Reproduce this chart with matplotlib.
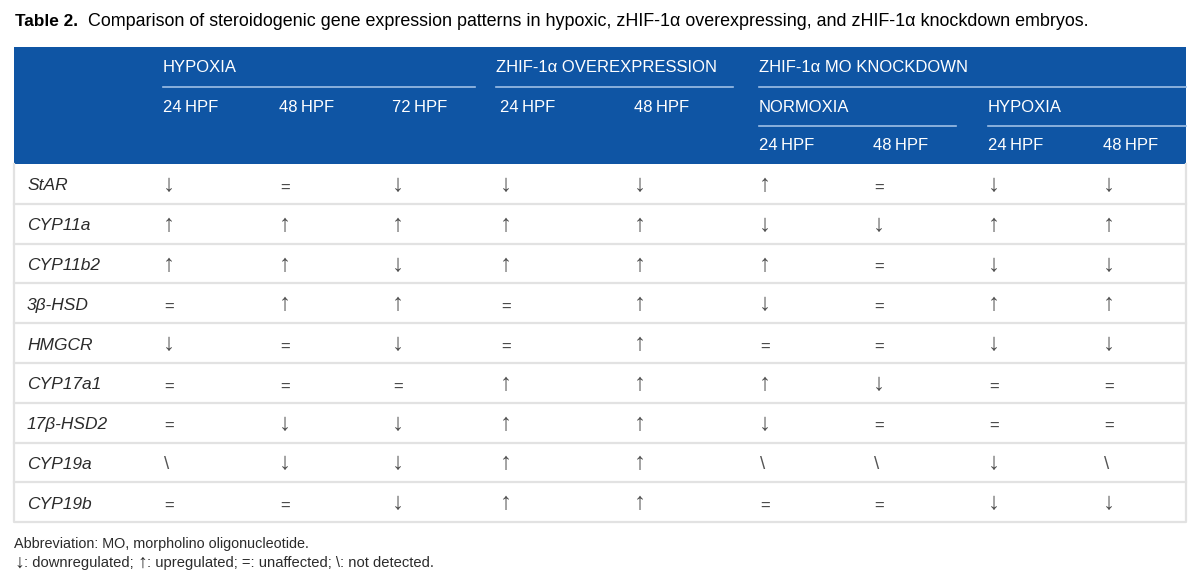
import matplotlib
matplotlib.use("Agg")
import matplotlib.pyplot as plt

plt.rcParams['font.family'] = ['Liberation Sans', 'DejaVu Sans']

genes = ['StAR', 'CYP11a', 'CYP11b2', '3β-HSD', 'HMGCR',
         'CYP17a1', '17β-HSD2', 'CYP19a', 'CYP19b']

# columns: hypoxia 24/48/72, overexpression 24/48,
# knockdown normoxia 24/48, knockdown hypoxia 24/48
hypoxia = [['↓', '=', '↓'], ['↑', '↑', '↑'], ['↑', '↑', '↓'],
           ['=', '↑', '↑'], ['↓', '=', '↓'], ['=', '=', '='],
           ['=', '↓', '↓'], ['\\', '↓', '↓'], ['=', '=', '↓']]
overexpression = [['↓', '↓'], ['↑', '↑'], ['↑', '↑'], ['=', '↑'],
                  ['=', '↑'], ['↑', '↑'], ['↑', '↑'], ['↑', '↑'],
                  ['↑', '↑']]
kd_normoxia = [['↑', '='], ['↓', '↓'], ['↑', '='], ['↓', '='],
               ['=', '='], ['↑', '↓'], ['↓', '='], ['\\', '\\'],
               ['=', '=']]
kd_hypoxia = [['↓', '↓'], ['↑', '↑'], ['↓', '↓'], ['↑', '↑'],
              ['↓', '↓'], ['=', '='], ['=', '='], ['↓', '\\'],
              ['↓', '↓']]

groups = ['HYPOXIA', 'ZHIF-1α OVEREXPRESSION', 'ZHIF-1α MO KNOCKDOWN']
subgroups = ['NORMOXIA', 'HYPOXIA']
times = ['24\u2009HPF', '48\u2009HPF', '72\u2009HPF', '24\u2009HPF', '48\u2009HPF',
         '24\u2009HPF', '48\u2009HPF', '24\u2009HPF', '48\u2009HPF']

title_bold = 'Table 2.'
title_rest = ('Comparison of steroidogenic gene expression patterns in hypoxic, '
              'zHIF-1α overexpressing, and zHIF-1α knockdown embryos.')
note1 = 'Abbreviation: MO, morpholino oligonucleotide.'
note2 = [('↓', True), (': downregulated; ', False), ('↑', True),
         (': upregulated; =: unaffected; \\: not detected.', False)]

blue = '#0F55A4'
rule = '#9EBFE6'
grid = '#E2E2E2'
ink = '#2B2B2B'

fig = plt.figure(figsize=(12, 5.87), dpi=100)
ax = fig.add_axes([0, 0, 1, 1])
ax.set_xlim(0, 1200)
ax.set_ylim(587, 0)
ax.axis('off')
renderer = fig.canvas.get_renderer()


def run_text(x, y, pieces):
    # draw pieces one after another on one line
    for s, kw in pieces:
        t = ax.text(x, y, s, va='center', **kw)
        bb = t.get_window_extent(renderer)
        x = x + bb.width  # axes spans the figure 1:1 in x
    return x


left, right = 14, 1186
top, head_bot = 47, 164
row_h = 39.8
col_x = [163, 279, 392, 500, 634, 759, 873, 988, 1103]

# title
ax.text(15, 22, title_bold, fontsize=12.4, fontweight='bold', va='center')
ax.text(88, 22, title_rest, fontsize=12.9, va='center')

# header block
ax.add_patch(plt.Rectangle((left, top), right - left, head_bot - top,
                           color=blue, lw=0))
hkw = dict(color='white', fontsize=12, va='center')
ax.text(col_x[0], 67, groups[0], **hkw)
ax.text(col_x[3] - 4, 67, groups[1], **hkw)
ax.text(col_x[5], 67, groups[2], **hkw)
ax.plot([col_x[0], 475], [87, 87], color=rule, lw=1.2)
ax.plot([496, 733], [87, 87], color=rule, lw=1.2)
ax.plot([col_x[5], right], [87, 87], color=rule, lw=1.2)

for i in range(5):
    ax.text(col_x[i], 107, times[i], **hkw)
ax.text(col_x[5], 107, subgroups[0], **hkw)
ax.text(col_x[7], 107, subgroups[1], **hkw)
ax.plot([col_x[5], 956], [126, 126], color=rule, lw=1.2)
ax.plot([col_x[7], right], [126, 126], color=rule, lw=1.2)
for i in range(5, 9):
    ax.text(col_x[i], 146, times[i], **hkw)

# body
bottom = head_bot + row_h * len(genes)
for r, g in enumerate(genes):
    yc = head_bot + row_h * (r + 0.5)
    ax.text(27, yc + 2, g, fontsize=12.5, style='italic', color=ink, va='center')
    vals = hypoxia[r] + overexpression[r] + kd_normoxia[r] + kd_hypoxia[r]
    for c, v in enumerate(vals):
        if v in '↑↓':
            ax.text(col_x[c], yc + 1, v, fontsize=17.5, color='#505050',
                    va='center', ha='left')
        elif v == '=':
            ax.text(col_x[c] + 1, yc + 4, v, fontsize=12, color='#444444',
                    va='center', ha='left')
        else:
            ax.text(col_x[c] + 1, yc + 2, v, fontsize=13.5, color='#555555',
                    va='center', ha='left')
    if r < len(genes) - 1:
        yl = head_bot + row_h * (r + 1)
        ax.plot([left, right], [yl, yl], color=grid, lw=1.6)

ax.plot([left, left, right, right], [head_bot, bottom, bottom, head_bot],
        color=grid, lw=1.6)

ax.text(14, 544, note1, fontsize=10.4, color=ink, va='center')
run_text(14, 563, [(s, dict(fontsize=14 if big else 10.6, color=ink))
                   for s, big in note2])

fig.savefig('out.png', dpi=100)
